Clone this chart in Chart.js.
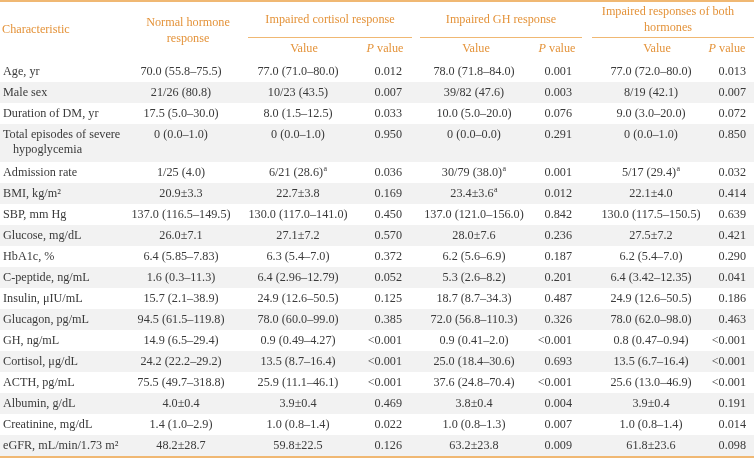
<!DOCTYPE html>
<html>
<head>
<meta charset="utf-8">
<script src="https://cdn.jsdelivr.net/npm/chart.js@4.4.1/dist/chart.umd.min.js"></script>
<style>
  html, body { margin: 0; padding: 0; background: #fff; }
  #table { display: block; }
</style>
</head>
<body>
<canvas id="table" width="754" height="462"></canvas>
<script>
// table content
const characteristics = ['Age, yr', 'Male sex', 'Duration of DM, yr', 'Total episodes of severe\nhypoglycemia',
  'Admission rate', 'BMI, kg/m²', 'SBP, mm Hg', 'Glucose, mg/dL', 'HbA1c, %', 'C-peptide, ng/mL',
  'Insulin, μIU/mL', 'Glucagon, pg/mL', 'GH, ng/mL', 'Cortisol, μg/dL', 'ACTH, pg/mL', 'Albumin, g/dL',
  'Creatinine, mg/dL', 'eGFR, mL/min/1.73 m²']

const normalResponse = ['70.0 (55.8–75.5)', '21/26 (80.8)', '17.5 (5.0–30.0)', '0 (0.0–1.0)', '1/25 (4.0)',
  '20.9±3.3', '137.0 (116.5–149.5)', '26.0±7.1', '6.4 (5.85–7.83)', '1.6 (0.3–11.3)', '15.7 (2.1–38.9)',
  '94.5 (61.5–119.8)', '14.9 (6.5–29.4)', '24.2 (22.2–29.2)', '75.5 (49.7–318.8)', '4.0±0.4', '1.4 (1.0–2.9)', '48.2±28.7']

const cortisolValue = ['77.0 (71.0–80.0)', '10/23 (43.5)', '8.0 (1.5–12.5)', '0 (0.0–1.0)', '6/21 (28.6)^a',
  '22.7±3.8', '130.0 (117.0–141.0)', '27.1±7.2', '6.3 (5.4–7.0)', '6.4 (2.96–12.79)', '24.9 (12.6–50.5)',
  '78.0 (60.0–99.0)', '0.9 (0.49–4.27)', '13.5 (8.7–16.4)', '25.9 (11.1–46.1)', '3.9±0.4', '1.0 (0.8–1.4)', '59.8±22.5']
const cortisolP = ['0.012', '0.007', '0.033', '0.950', '0.036', '0.169', '0.450', '0.570', '0.372', '0.052',
  '0.125', '0.385', '<0.001', '<0.001', '<0.001', '0.469', '0.022', '0.126']

const ghValue = ['78.0 (71.8–84.0)', '39/82 (47.6)', '10.0 (5.0–20.0)', '0 (0.0–0.0)', '30/79 (38.0)^a',
  '23.4±3.6^a', '137.0 (121.0–156.0)', '28.0±7.6', '6.2 (5.6–6.9)', '5.3 (2.6–8.2)', '18.7 (8.7–34.3)',
  '72.0 (56.8–110.3)', '0.9 (0.41–2.0)', '25.0 (18.4–30.6)', '37.6 (24.8–70.4)', '3.8±0.4', '1.0 (0.8–1.3)', '63.2±23.8']
const ghP = ['0.001', '0.003', '0.076', '0.291', '0.001', '0.012', '0.842', '0.236', '0.187', '0.201',
  '0.487', '0.326', '<0.001', '0.693', '<0.001', '0.004', '0.007', '0.009']

const bothValue = ['77.0 (72.0–80.0)', '8/19 (42.1)', '9.0 (3.0–20.0)', '0 (0.0–1.0)', '5/17 (29.4)^a',
  '22.1±4.0', '130.0 (117.5–150.5)', '27.5±7.2', '6.2 (5.4–7.0)', '6.4 (3.42–12.35)', '24.9 (12.6–50.5)',
  '78.0 (62.0–98.0)', '0.8 (0.47–0.94)', '13.5 (6.7–16.4)', '25.6 (13.0–46.9)', '3.9±0.4', '1.0 (0.8–1.4)', '61.8±23.6']
const bothP = ['0.013', '0.007', '0.072', '0.850', '0.032', '0.414', '0.639', '0.421', '0.290', '0.041',
  '0.186', '0.463', '<0.001', '<0.001', '<0.001', '0.191', '0.014', '0.098']

const groupHeaders = ['Impaired cortisol response', 'Impaired GH response', 'Impaired responses of both\nhormones']

// layout (table units = px on the 754x462 canvas)
const W = 754, H = 462
const headBottom = 61
const rowH = 21
const extraLine = 17
const columns = [
  { values: characteristics, x: 3, align: 'left' },
  { values: normalResponse, x: 181, align: 'center' },
  { values: cortisolValue, x: 298, align: 'center' },
  { values: cortisolP, x: 402, align: 'right' },
  { values: ghValue, x: 474, align: 'center' },
  { values: ghP, x: 572, align: 'right' },
  { values: bothValue, x: 651, align: 'center' },
  { values: bothP, x: 746, align: 'right' }
]
const groupSpans = [[248, 412], [420, 582], [592, 754]]
const groupCenters = [330, 501, 668]
const valueHeadX = [304, 476, 657]
const pHeadX = [385, 557, 727]

const orange = '#e4933a'
const lineOrange = '#f0b873'
const ink = '#3a3a3a'
const stripe = '#f2f2f2'
const font = '12.2px "Liberation Serif", "Times New Roman", serif'

// row tops from the number of lines in each label
const rowTops = []
const rowHeights = []
let yy = headBottom
characteristics.forEach(label => {
  const h = rowH + (label.split('\n').length - 1) * extraLine
  rowTops.push(yy)
  rowHeights.push(h)
  yy += h
})
const tableBottom = yy

// one point per cell, placed on the first text line of its row
const cells = []
columns.forEach((col, c) => {
  col.values.forEach((v, r) => {
    cells.push({ x: col.x, y: rowTops[r] + rowH / 2, text: v, align: col.align, first: c === 0 })
  })
})

function parseSegs(str) {
  const parts = str.split('^')
  const segs = [{ t: parts[0] }]
  if (parts[1]) segs.push({ t: parts[1], sup: true })
  return segs
}

function drawSegs(ctx, segs, x, y, align) {
  const fonts = segs.map(s => s.sup ? '8px "Liberation Serif", serif' : (s.italic ? 'italic ' : '') + font)
  const widths = segs.map((s, i) => {
    ctx.font = fonts[i]
    return ctx.measureText(s.t).width + (s.sup ? 0.5 : 0)
  })
  const total = widths.reduce((a, b) => a + b, 0)
  let cx = align === 'center' ? x - total / 2 : align === 'right' ? x - total : x
  segs.forEach((s, i) => {
    ctx.font = fonts[i]
    ctx.fillText(s.t, cx + (s.sup ? 0.5 : 0), s.sup ? y - 4 : y)
    cx += widths[i]
  })
}

const tablePlugin = {
  id: 'tablePlugin',
  beforeDatasetsDraw(chart) {
    const { ctx, scales: { x, y } } = chart
    ctx.save()
    ctx.fillStyle = stripe
    rowTops.forEach((top, r) => {
      if (r % 2 === 1) {
        const y0 = y.getPixelForValue(top)
        const y1 = y.getPixelForValue(top + rowHeights[r])
        ctx.fillRect(x.getPixelForValue(0), y0, x.getPixelForValue(W) - x.getPixelForValue(0), y1 - y0)
      }
    })
    ctx.restore()
  },
  afterDatasetsDraw(chart) {
    const { ctx, scales: { x, y } } = chart
    const meta = chart.getDatasetMeta(0)
    ctx.save()
    ctx.fillStyle = ink
    ctx.textAlign = 'left'
    ctx.textBaseline = 'middle'
    meta.data.forEach((pt, i) => {
      const cell = cells[i]
      if (cell.first) {
        const lines = cell.text.split('\n')
        lines.forEach((ln, k) => {
          ctx.font = font
          ctx.fillText(ln, pt.x + (k > 0 ? 10 : 0), pt.y + k * 15.5)
        })
      } else {
        drawSegs(ctx, parseSegs(cell.text), pt.x, pt.y, cell.align)
      }
    })

    // header
    const px = v => x.getPixelForValue(v)
    const py = v => y.getPixelForValue(v)
    ctx.fillStyle = orange
    ctx.font = font
    ctx.fillText('Characteristic', px(2), py(30))
    ctx.textAlign = 'center'
    ctx.fillText('Normal hormone', px(188), py(23))
    ctx.fillText('response', px(188), py(38.5))
    groupHeaders.forEach((g, i) => {
      const lines = g.split('\n')
      const top = lines.length > 1 ? 12 : 20
      lines.forEach((ln, k) => ctx.fillText(ln, px(groupCenters[i]), py(top + k * 15.5)))
      ctx.fillText('Value', px(valueHeadX[i]), py(49))
    })
    ctx.textAlign = 'left'
    pHeadX.forEach(cx => drawSegs(ctx, [{ t: 'P', italic: true }, { t: ' value' }], px(cx), py(49), 'center'))

    // rules
    ctx.strokeStyle = lineOrange
    ctx.lineWidth = 2
    ctx.beginPath()
    ctx.moveTo(px(0), py(1)); ctx.lineTo(px(W), py(1))
    ctx.moveTo(px(0), py(tableBottom + 1)); ctx.lineTo(px(W), py(tableBottom + 1))
    ctx.stroke()
    ctx.lineWidth = 1
    ctx.beginPath()
    groupSpans.forEach(([a, b]) => { ctx.moveTo(px(a), py(37.5)); ctx.lineTo(px(b), py(37.5)) })
    ctx.stroke()
    ctx.restore()
  }
}

const chart = new Chart(document.getElementById('table'), {
  type: 'scatter',
  data: {
    datasets: [{ data: cells, pointRadius: 0, pointHoverRadius: 0 }]
  },
  options: {
    responsive: false,
    animation: false,
    devicePixelRatio: 1,
    layout: { padding: 0 },
    events: [],
    scales: {
      x: { type: 'linear', min: 0, max: W, display: false },
      y: { type: 'linear', min: 0, max: H, reverse: true, display: false }
    },
    plugins: { legend: { display: false }, tooltip: { enabled: false } }
  },
  plugins: [tablePlugin]
})
</script>
</body>
</html>
